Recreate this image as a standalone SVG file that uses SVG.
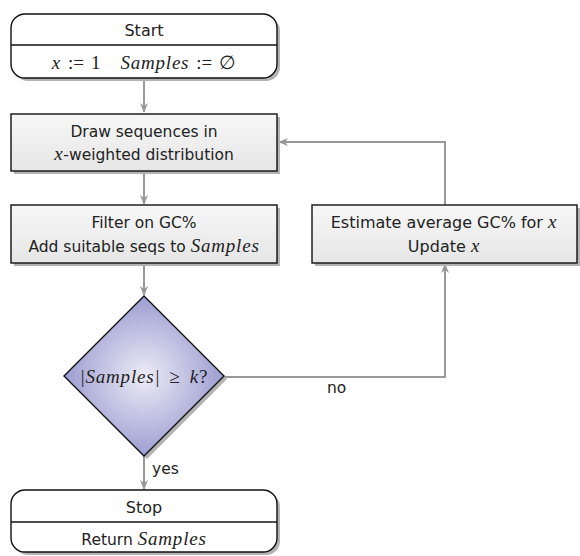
<svg xmlns="http://www.w3.org/2000/svg" width="580" height="556" viewBox="0 0 580 556">
<defs>
<linearGradient id="boxg" x1="0" y1="0" x2="0" y2="1"><stop offset="0" stop-color="#f7f7f7"/><stop offset="1" stop-color="#e6e6e6"/></linearGradient>
<radialGradient id="diag" cx="0.5" cy="0.5" r="0.5"><stop offset="0" stop-color="#ececf6"/><stop offset="1" stop-color="#9d9dd2"/></radialGradient>
<marker id="arr" viewBox="0 0 10 10" refX="9" refY="5" markerWidth="10" markerHeight="10" markerUnits="userSpaceOnUse" orient="auto">
<path d="M0,1 L10,5 L0,9 L3,5 Z" fill="#999"/>
</marker>
<style>
.box{fill:url(#boxg);stroke:#111;stroke-width:1.4}
.term{fill:#fff;stroke:#111;stroke-width:1.4}
.sh{fill:#b3b3b3}
.t{font-family:"DejaVu Sans","Open Sans",sans-serif;font-size:15.5px;fill:#222;text-anchor:middle}
.m{font-family:"Liberation Serif","DejaVu Serif",serif;font-style:italic;font-size:19px;letter-spacing:0.8px}
.mr{font-family:"Liberation Serif","DejaVu Serif",serif;font-size:19px}
.c{fill:none;stroke:#999;stroke-width:2}
.lab{font-family:"DejaVu Sans","Open Sans",sans-serif;font-size:15.5px;fill:#222}
</style>
</defs>
<g id="connectors">
<line class="c" x1="144" y1="79" x2="144" y2="112" marker-end="url(#arr)"/>
<line class="c" x1="144" y1="171" x2="144" y2="204" marker-end="url(#arr)"/>
<line class="c" x1="144" y1="263" x2="144" y2="295" marker-end="url(#arr)"/>
<polyline class="c" points="224,377 445,377 445,264" marker-end="url(#arr)"/>
<polyline class="c" points="445,205 445,142 279,142" marker-end="url(#arr)"/>
<line class="c" x1="144" y1="456" x2="144" y2="489" marker-end="url(#arr)"/>
<text class="lab" x="327" y="393">no</text>
<text class="lab" x="152" y="474">yes</text>
</g>
<g id="start">
<rect class="sh" x="14" y="17" width="266" height="64" rx="14"/>
<rect class="term" x="11" y="14" width="266" height="64" rx="14"/>
<line x1="11" y1="45" x2="277" y2="45" stroke="#111" stroke-width="1.4"/>
<text class="t" x="144" y="36" style="font-size:16px">Start</text>
<text class="t" x="144" y="69"><tspan class="m">x</tspan><tspan class="mr" dx="7">:=</tspan><tspan class="mr" dx="7">1</tspan><tspan class="m" dx="20">Samples</tspan><tspan class="mr" dx="7">:=</tspan><tspan class="mr" dx="7">∅</tspan></text>
</g>
<g id="draw">
<rect class="sh" x="14" y="117" width="266" height="57"/>
<rect class="box" x="11" y="114" width="266" height="57"/>
<text class="t" x="144" y="137">Draw sequences in</text>
<text class="t" x="144" y="160"><tspan class="m">x</tspan>-weighted distribution</text>
</g>
<g id="filter">
<rect class="sh" x="14" y="208" width="266" height="58"/>
<rect class="box" x="11" y="205" width="266" height="58"/>
<text class="t" x="144" y="228">Filter on GC%</text>
<text class="t" x="144" y="252">Add suitable seqs to <tspan class="m">Samples</tspan></text>
</g>
<g id="estimate">
<rect class="sh" x="315" y="208" width="265" height="58"/>
<rect class="box" x="312" y="205" width="265" height="58"/>
<text class="t" x="444" y="228" style="font-size:16px">Estimate average GC% for <tspan class="m">x</tspan></text>
<text class="t" x="444" y="252" style="font-size:16px">Update <tspan class="m">x</tspan></text>
</g>
<g id="decision">
<polygon points="147,299 227,379 147,459 67,379" fill="#b3b3b3"/>
<polygon points="144,296 224,376 144,456 64,376" fill="url(#diag)" stroke="#111" stroke-width="1.4"/>
<text class="t" x="144" y="383"><tspan class="mr">|</tspan><tspan class="m" dx="1">Samples</tspan><tspan class="mr" dx="1">|</tspan><tspan class="mr" dx="10">≥</tspan><tspan class="m" dx="10">k</tspan><tspan class="mr">?</tspan></text>
</g>
<g id="stop">
<rect class="sh" x="14" y="493" width="266" height="62" rx="14"/>
<rect class="term" x="11" y="490" width="266" height="62" rx="14"/>
<line x1="11" y1="522" x2="277" y2="522" stroke="#111" stroke-width="1.4"/>
<text class="t" x="144" y="513" style="font-size:16px">Stop</text>
<text class="t" x="144" y="545">Return <tspan class="m">Samples</tspan></text>
</g>
</svg>
